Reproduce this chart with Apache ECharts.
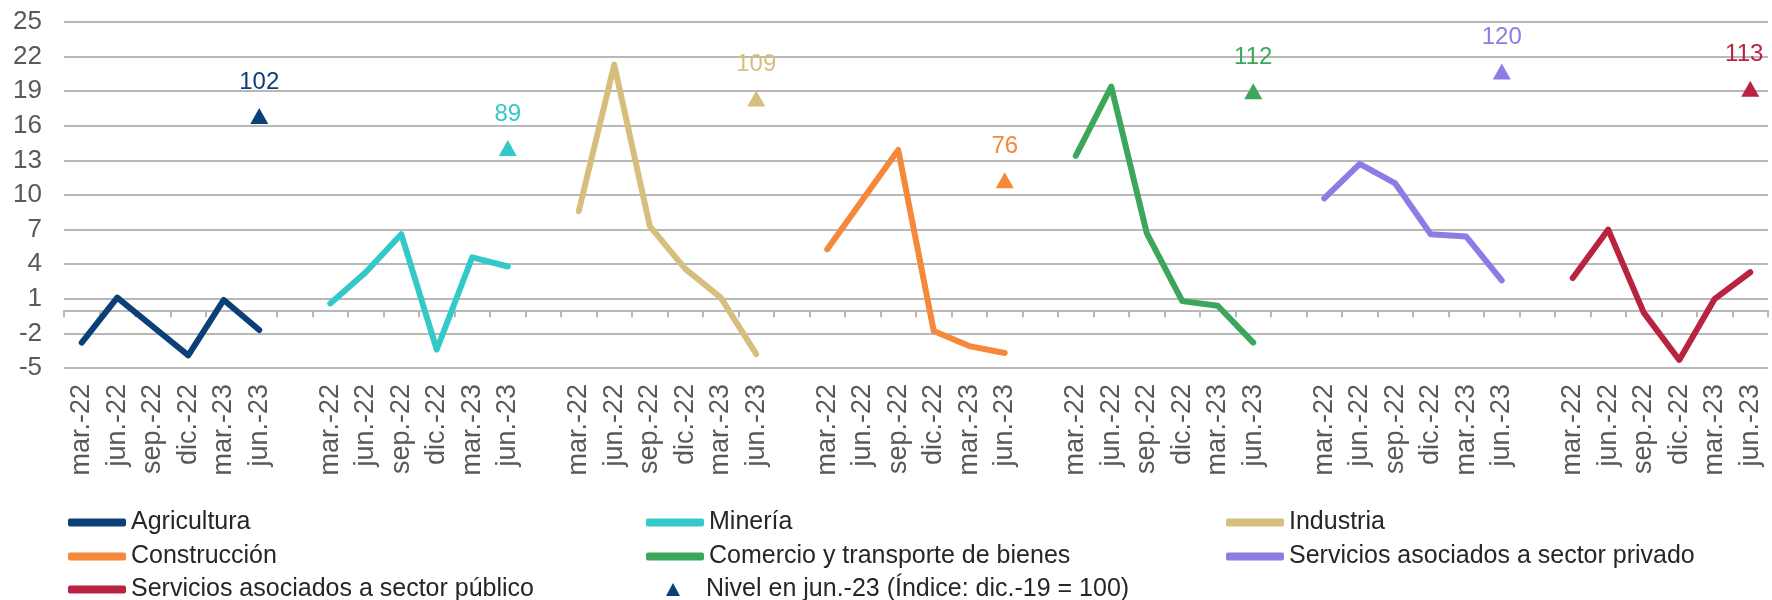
<!DOCTYPE html>
<html lang="es">
<head>
<meta charset="utf-8">
<title>Crecimiento por sector</title>
<script src="https://cdn.jsdelivr.net/npm/echarts@6/dist/echarts.min.js"></script>
<style>
    html, body { margin: 0; padding: 0; background: #fff; }
    #main { width: 1772px; height: 600px; }
</style>
</head>
<body>
<div id="main"></div>
<script>
// trimestres de cada bloque
var quarters = ['mar.-22', 'jun.-22', 'sep.-22', 'dic.-22', 'mar.-23', 'jun.-23'];

// variación por sector
var agricultura  = [-2.8, 1.1, -1.4, -3.9, 0.9, -1.7];
var mineria      = [0.6, 3.3, 6.6, -3.4, 4.6, 3.8];
var industria    = [8.6, 21.3, 7.3, 3.6, 1.1, -3.8];
var construccion = [5.3, 9.6, 13.9, -1.8, -3.1, -3.7];
var comercio     = [13.4, 19.4, 6.7, 0.8, 0.4, -2.8];
var servPrivado  = [9.7, 12.7, 11.0, 6.6, 6.4, 2.6];
var servPublico  = [2.8, 7.0, -0.2, -4.3, 1.0, 3.3];

// nivel en jun.-23 (índice dic.-19 = 100)
var nivelJun23 = [102, 89, 109, 76, 112, 120, 113];

var yTicks = [-5, -2, 1, 4, 7, 10, 13, 16, 19, 22, 25];

var sectores = ['Agricultura', 'Minería', 'Industria', 'Construcción',
    'Comercio y transporte de bienes', 'Servicios asociados a sector privado',
    'Servicios asociados a sector público'];
var valores = [agricultura, mineria, industria, construccion, comercio, servPrivado, servPublico];
var colores = ['#0c3f78', '#33c9c9', '#d6bf7c', '#f5883a', '#3ca75a', '#8c7de6', '#b8243f'];
var nivelName = 'Nivel en jun.-23 (Índice: dic.-19 = 100)';

// eje x: 7 bloques de 6 trimestres con un hueco entre bloques
var categories = [];
for (var g = 0; g < sectores.length; g++) {
    categories = categories.concat(quarters);
    if (g < sectores.length - 1) categories.push('');
}
var block = quarters.length + 1;

var series = [];
var nivelData = categories.map(function () { return null; });
for (var s = 0; s < sectores.length; s++) {
    var d = categories.map(function () { return null; });
    for (var q = 0; q < quarters.length; q++) {
        d[s * block + q] = valores[s][q];
    }
    series.push({
        name: sectores[s],
        type: 'line',
        data: d,
        symbol: 'none',
        connectNulls: false,
        color: colores[s],
        lineStyle: { width: 6, cap: 'round', join: 'round' }
    });
    nivelData[s * block + quarters.length - 1] = {
        value: nivelJun23[s],
        itemStyle: { color: colores[s] },
        label: { color: colores[s], offset: s === sectores.length - 1 ? [-6, 0] : [0, 0] }
    };
}
series.push({
    name: nivelName,
    type: 'scatter',
    yAxisIndex: 1,
    symbol: 'triangle',
    symbolSize: [18, 16],
    color: colores[0],
    itemStyle: { opacity: 1 },
    data: nivelData,
    label: {
        show: true,
        position: 'top',
        distance: 14,
        fontSize: 24,
        fontFamily: 'Liberation Sans'
    }
});

var chart = echarts.init(document.getElementById('main'));
var textColor = '#262626';
var axisGrey = '#595959';
var lineGrey = '#b8b8b8';

// una leyenda por elemento para fijar columnas y filas
function legendItem(name, left, top) {
    return {
        left: left,
        top: top,
        padding: 0,
        itemWidth: 58,
        itemHeight: 8,
        icon: 'roundRect',
        selectedMode: false,
        data: [name],
        textStyle: { fontSize: 25, color: textColor, fontFamily: 'Liberation Sans' }
    };
}
var colLeft = [68, 646, 1226];
var rowTop = [510, 544, 577];

chart.setOption({
    animation: false,
    backgroundColor: '#fff',
    grid: { left: 64, right: 4, top: 22, bottom: 232 },
    legend: [
        legendItem(sectores[0], colLeft[0], rowTop[0]),
        legendItem(sectores[1], colLeft[1], rowTop[0]),
        legendItem(sectores[2], colLeft[2], rowTop[0]),
        legendItem(sectores[3], colLeft[0], rowTop[1]),
        legendItem(sectores[4], colLeft[1], rowTop[1]),
        legendItem(sectores[5], colLeft[2], rowTop[1]),
        legendItem(sectores[6], colLeft[0], rowTop[2]),
        {
            left: 666,
            top: rowTop[2],
            padding: 0,
            itemWidth: 14,
            itemHeight: 13,
            selectedMode: false,
            data: [{ name: nivelName, icon: 'triangle' }],
            textStyle: { fontSize: 25, color: textColor, fontFamily: 'Liberation Sans', padding: [0, 0, 0, 21] }
        }
    ],
    xAxis: [{
        type: 'category',
        data: categories,
        boundaryGap: true,
        axisLine: { onZero: true, lineStyle: { color: lineGrey, width: 2 } },
        axisTick: { show: true, interval: 0, length: 7, lineStyle: { color: lineGrey, width: 2 } },
        axisLabel: { show: false }
    }, {
        type: 'category',
        data: categories,
        position: 'bottom',
        boundaryGap: true,
        axisLine: { show: false, onZero: false },
        axisTick: { show: false },
        axisLabel: {
            interval: 0,
            rotate: 90,
            margin: 16,
            fontSize: 27,
            color: axisGrey,
            fontFamily: 'Liberation Sans'
        }
    }],
    yAxis: [{
        type: 'value',
        min: -5,
        max: 25,
        axisLine: { show: false },
        axisTick: { show: false, customValues: yTicks },
        axisLabel: {
            customValues: yTicks,
            margin: 22,
            fontSize: 26,
            color: axisGrey,
            fontFamily: 'Liberation Sans'
        },
        splitLine: { lineStyle: { color: lineGrey, width: 2 } }
    }, {
        type: 'value',
        min: 0,
        max: 140,
        show: false,
        splitLine: { show: false }
    }],
    series: series
});
</script>
</body>
</html>
